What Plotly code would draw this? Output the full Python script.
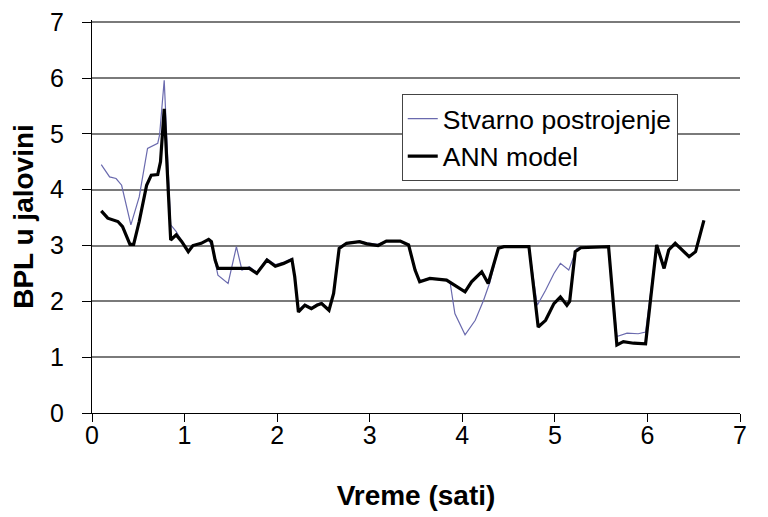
import plotly.graph_objects as go

# ANN model (thick black)
ann_x = [0.10, 0.17, 0.28, 0.33, 0.41, 0.45, 0.51, 0.59, 0.64, 0.71, 0.74, 0.78, 0.85, 0.91, 0.97,
         1.04, 1.09, 1.18, 1.26, 1.29, 1.33, 1.36, 1.45, 1.56, 1.70, 1.78, 1.89, 1.98, 2.07, 2.16,
         2.19, 2.23, 2.30, 2.37, 2.43, 2.48, 2.56, 2.61, 2.67, 2.75, 2.89, 2.97, 3.09, 3.18, 3.33,
         3.42, 3.49, 3.54, 3.65, 3.83, 3.92, 4.03, 4.10, 4.21, 4.28, 4.39, 4.45, 4.72, 4.82, 4.90,
         4.99, 5.06, 5.13, 5.16, 5.22, 5.28, 5.58, 5.67, 5.74, 5.85, 5.98, 6.10, 6.18, 6.23, 6.30,
         6.38, 6.45, 6.52, 6.61]
ann_y = [3.62, 3.49, 3.43, 3.34, 3.02, 3.02, 3.43, 4.08, 4.26, 4.27, 4.50, 5.45, 3.10, 3.19, 3.07,
         2.89, 3.00, 3.04, 3.11, 3.07, 2.74, 2.59, 2.59, 2.59, 2.59, 2.50, 2.74, 2.63, 2.68, 2.75,
         2.44, 1.81, 1.93, 1.87, 1.93, 1.96, 1.84, 2.14, 2.95, 3.04, 3.07, 3.03, 3.00, 3.08, 3.08,
         3.01, 2.56, 2.35, 2.41, 2.38, 2.29, 2.17, 2.35, 2.53, 2.32, 2.95, 2.98, 2.98, 1.54, 1.66,
         1.96, 2.08, 1.93, 2.00, 2.89, 2.96, 2.98, 1.22, 1.28, 1.25, 1.24, 3.01, 2.59, 2.92, 3.04,
         2.92, 2.80, 2.89, 3.45]

# Stvarno postrojenje (thin blue)
real_x = [0.10, 0.19, 0.26, 0.32, 0.42, 0.51, 0.60, 0.71, 0.73, 0.78, 0.85, 0.91, 1.00, 1.04, 1.09,
          1.18, 1.26, 1.30, 1.36, 1.47, 1.56, 1.62, 1.70, 1.78, 1.89, 1.98, 2.07, 2.16, 2.19, 2.23,
          2.30, 2.37, 2.43, 2.48, 2.56, 2.61, 2.67, 2.75, 2.89, 2.97, 3.09, 3.18, 3.33, 3.42, 3.49,
          3.54, 3.65, 3.83, 3.87, 3.92, 4.03, 4.14, 4.23, 4.30, 4.39, 4.45, 4.72, 4.81, 4.90, 4.99,
          5.06, 5.15, 5.19, 5.24, 5.28, 5.58, 5.67, 5.78, 5.90, 5.98, 6.10, 6.18, 6.23, 6.30, 6.38,
          6.45, 6.52, 6.61]
real_y = [4.45, 4.23, 4.20, 4.08, 3.37, 3.87, 4.74, 4.83, 4.98, 5.96, 3.37, 3.25, 3.00, 2.89, 3.00,
          3.04, 3.11, 2.95, 2.47, 2.32, 2.98, 2.56, 2.62, 2.52, 2.76, 2.66, 2.70, 2.77, 2.44, 1.85,
          1.95, 1.89, 1.95, 1.98, 1.86, 2.14, 2.97, 3.05, 3.08, 3.05, 3.02, 3.08, 3.08, 3.02, 2.56,
          2.37, 2.41, 2.38, 2.32, 1.78, 1.40, 1.66, 2.02, 2.35, 2.95, 2.98, 2.98, 1.93, 2.20, 2.50,
          2.68, 2.56, 2.74, 2.95, 2.96, 2.98, 1.37, 1.43, 1.42, 1.45, 3.01, 2.59, 2.92, 3.04, 2.92,
          2.80, 2.89, 3.45]

x_ticks = [0, 1, 2, 3, 4, 5, 6, 7]
y_ticks = [0, 1, 2, 3, 4, 5, 6, 7]

FONT = "Liberation Sans, Arial, sans-serif"

fig = go.Figure()
fig.add_trace(go.Scatter(x=real_x, y=real_y, mode="lines", name="Stvarno postrojenje",
                         line=dict(color="#6a6aae", width=1.2)))
fig.add_trace(go.Scatter(x=ann_x, y=ann_y, mode="lines", name="ANN model",
                         line=dict(color="black", width=3.2)))

fig.update_layout(
    width=768, height=517,
    margin=dict(l=84, r=36, t=12, b=112),
    paper_bgcolor="white", plot_bgcolor="white",
    font=dict(family=FONT, color="black"),
    showlegend=True,
    legend=dict(x=0.478, y=0.812, xanchor="left", yanchor="top",
                bgcolor="white", bordercolor="#444", borderwidth=1,
                font=dict(size=26.5, family=FONT), tracegroupgap=0),
    xaxis=dict(range=[0, 7], tickvals=x_ticks, ticktext=[str(v) for v in x_ticks],
               automargin=False, ticklabeloverflow="allow",
               showgrid=False, zeroline=False, showline=True, linecolor="black", linewidth=1,
               ticks="outside", ticklen=8, tickcolor="black", ticklabelstandoff=-8,
               tickfont=dict(size=25),
               title=dict(text="<b>Vreme (sati)</b>", font=dict(size=28), standoff=37)),
    yaxis=dict(range=[0, 7.04], tickvals=y_ticks, ticktext=[str(v) for v in y_ticks],
               automargin=False, ticklabeloverflow="allow",
               showgrid=True, gridcolor="#7a7a7a", gridwidth=1.5, zeroline=False,
               showline=True, linecolor="black", linewidth=1,
               ticks="outside", ticklen=9, tickcolor="black", ticklabelstandoff=13,
               tickfont=dict(size=25),
               title=dict(text="<b>BPL u jalovini</b>", font=dict(size=28), standoff=9)),
)

fig.write_html("out.html")
